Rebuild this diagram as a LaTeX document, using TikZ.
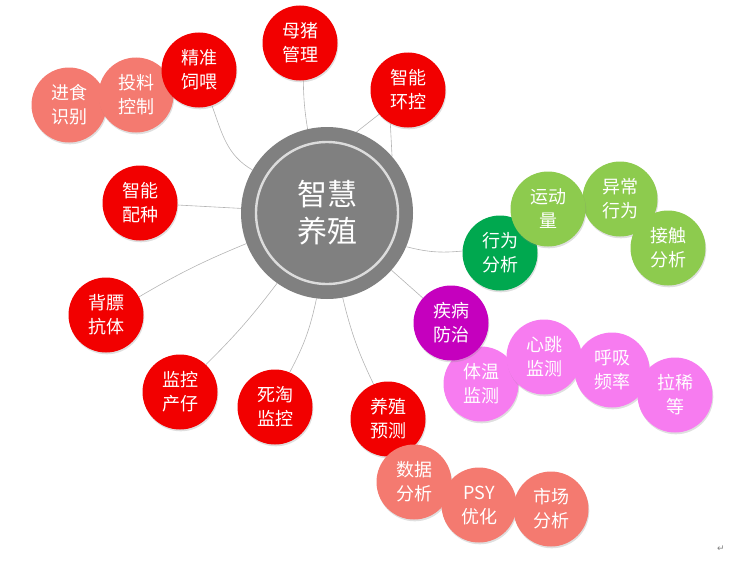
\documentclass[tikz,border=0pt]{standalone}
\usepackage{fontspec}
\newfontfamily\cjk{Noto Sans CJK SC}
\newfontfamily\symfont{DejaVu Sans}
\usetikzlibrary{shadows,backgrounds}

\definecolor{hubgray}{HTML}{808080}
\definecolor{ringgray}{HTML}{DCDCDC}
\definecolor{linkgray}{HTML}{B4B4B4}
\definecolor{corered}{HTML}{F20000}
\definecolor{salmon}{HTML}{F47A70}
\definecolor{darkgreen}{HTML}{00A84F}
\definecolor{lightgreen}{HTML}{8DCB4E}
\definecolor{plum}{HTML}{C500BE}
\definecolor{lightpink}{HTML}{F77CF0}

\begin{document}
\begin{tikzpicture}[x=1pt,y=-1pt,
    bubble/.style={circle,minimum size=75pt,inner sep=0pt,align=center,text=white,
        font=\cjk\fontsize{18}{24}\selectfont,
        drop shadow={opacity=0.25,shadow xshift=0.8pt,shadow yshift=-1.8pt}},
    redball/.style={bubble,fill=corered},
    salmonball/.style={bubble,fill=salmon},
    greenball/.style={bubble,fill=darkgreen},
    limeball/.style={bubble,fill=lightgreen},
    plumball/.style={bubble,fill=plum},
    pinkball/.style={bubble,fill=lightpink},
    link/.style={draw=linkgray,line width=0.6pt}]

    \useasboundingbox (0,0) rectangle (746,578);

    % Hub
    \node [circle,fill=hubgray,minimum size=172pt,inner sep=0pt,align=center,text=white,
        font=\cjk\fontsize{30}{37}\selectfont] (hub) at (327,213) {智慧\\养殖};
    \draw [ringgray,line width=2.4pt] (hub.center) circle [radius=71pt];

    % Feeding branch
    \node [salmonball] (intake) at (69,105) {进食\\识别};
    \node [salmonball] (dose) at (136,95) {投料\\控制};
    \node [redball] (feed) at (199,70) {精准\\饲喂};

    % Red ring
    \node [redball] (sow) at (300,43) {母猪\\管理};
    \node [redball] (env) at (408,90) {智能\\环控};
    \node [redball] (breed) at (140,203) {智能\\配种};
    \node [redball] (fat) at (106,315) {背膘\\抗体};
    \node [redball] (farrow) at (180,392) {监控\\产仔};
    \node [redball] (cull) at (275,407) {死淘\\监控};
    \node [redball] (forecast) at (388,419) {养殖\\预测};

    % Forecast branch
    \node [salmonball] (data) at (414,482) {数据\\分析};
    \node [salmonball] (psy) at (479,505) {PSY\\优化};
    \node [salmonball] (market) at (551,509) {市场\\分析};

    % Behaviour branch
    \node [greenball] (behav) at (500,253) {行为\\分析};
    \node [limeball] (abnormal) at (620,199) {异常\\行为};
    \node [limeball] (motion) at (548,209) {运动\\量};
    \node [limeball] (contact) at (668,248) {接触\\分析};

    % Disease branch
    \node [pinkball] (temp) at (481,384) {体温\\监测};
    \node [pinkball] (heart) at (544,357) {心跳\\监测};
    \node [pinkball] (breath) at (612,370) {呼吸\\频率};
    \node [pinkball] (diarrhea) at (675,395) {拉稀\\等};
    \node [plumball] (disease) at (451,323) {疾病\\防治};

    % Connectors
    \begin{scope}[on background layer]
        \draw [link] (hub) to [bend left=4] (sow);
        \draw [link] (hub.70) -- (env.220);
        \draw [link] (hub.41) -- (env.242);
        \draw [link] (hub) to [out=150,in=-70] (feed);
        \draw [link] (hub) -- (breed);
        \draw [link] (hub) to [bend right=4] (fat);
        \draw [link] (hub) to [bend left=4] (farrow);
        \draw [link] (hub) to [bend left=8] (cull);
        \draw [link] (hub) to [bend right=6] (forecast);
        \draw [link] (hub) to [bend right=10] (behav);
        \draw [link] (hub) -- (disease);
    \end{scope}

    % Paragraph mark
    \node [text=gray,font=\symfont\fontsize{9}{9}\selectfont] (pmark) at (721,549) {↵};

\end{tikzpicture}
\end{document}
